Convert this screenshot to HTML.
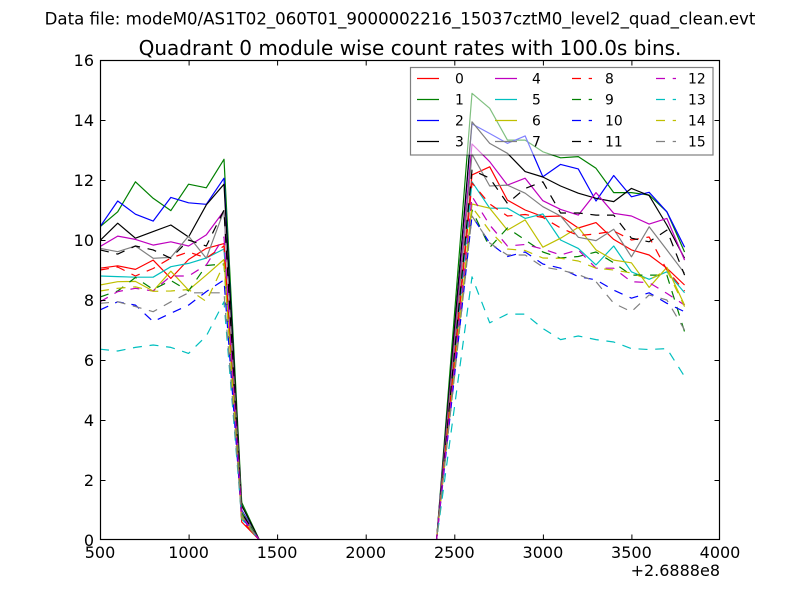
<!DOCTYPE html>
<html><head><meta charset="utf-8"><style>
html,body{margin:0;padding:0;background:#fff;}
svg{display:block;}
text{font-family:"DejaVu Sans","Liberation Sans",sans-serif;fill:#000;}
</style></head><body>
<svg width="800" height="600" viewBox="0 0 800 600" xmlns="http://www.w3.org/2000/svg">
<rect width="800" height="600" fill="#fff"/>
<text x="400" y="24.5" font-size="16.6" text-anchor="middle">Data file: modeM0/AS1T02_060T01_9000002216_15037cztM0_level2_quad_clean.evt</text>
<text x="410" y="55" font-size="20" text-anchor="middle">Quadrant 0 module wise count rates with 100.0s bins.</text>
<defs><clipPath id="ax"><rect x="100" y="60" width="620" height="480"/></clipPath></defs>
<g clip-path="url(#ax)" fill="none" stroke-width="1.2" stroke-linejoin="round">
<polyline stroke="#ff0000" points="100,268.2 117.71,265.8 135.43,269.4 153.14,260.1 170.86,278.4 188.57,259.5 206.29,248.4 224,243.6 241.71,522 259.43,540 436.57,540 472,174.9 489.71,166.8 507.43,200.1 525.14,210 542.86,216.6 560.57,216 578.29,228 596,222.6 613.71,239.4 631.43,249.9 649.14,255 666.86,268.2 684.57,285"/>
<polyline stroke="#008000" points="100,226.8 117.71,211.8 135.43,181.8 153.14,198.3 170.86,210.6 188.57,184.2 206.29,187.8 224,159.3 241.71,502.5 259.43,540 436.57,540 472,93.3 489.71,108.3 507.43,140.1 525.14,140.1 542.86,151.8 560.57,157.8 578.29,156.6 596,168.3 613.71,192.6 631.43,192.6 649.14,195 666.86,211.8 684.57,252"/>
<polyline stroke="#0000ff" points="100,226.8 117.71,201 135.43,214.2 153.14,221.1 170.86,197.4 188.57,202.8 206.29,204.3 224,178.2 241.71,510 259.43,540 436.57,540 472,123.9 489.71,133.5 507.43,143.4 525.14,135.9 542.86,176.7 560.57,164.4 578.29,168.9 596,201 613.71,175.5 631.43,196.8 649.14,192.3 666.86,211.8 684.57,247.2"/>
<polyline stroke="#000000" points="100,240.6 117.71,223.2 135.43,238.2 153.14,231.6 170.86,225 188.57,237 206.29,204.9 224,184.2 241.71,505.5 259.43,540 436.57,540 472,121.8 489.71,143.4 507.43,153.3 525.14,171.6 542.86,177 560.57,186 578.29,193.2 596,198.3 613.71,201.6 631.43,188.4 649.14,195.6 666.86,225 684.57,258.3"/>
<polyline stroke="#bf00bf" points="100,246.6 117.71,236.1 135.43,239.4 153.14,245.1 170.86,241.8 188.57,246 206.29,234.9 224,210.9 241.71,513 259.43,540 436.57,540 472,144 489.71,161.7 507.43,185.1 525.14,178.2 542.86,200.7 560.57,209.4 578.29,215.1 596,192.6 613.71,213.3 631.43,216 649.14,224.1 666.86,218.4 684.57,260.1"/>
<polyline stroke="#00bfbf" points="100,276 117.71,276.6 135.43,277.2 153.14,277.2 170.86,266.7 188.57,263.4 206.29,258 224,249 241.71,516 259.43,540 436.57,540 472,181.8 489.71,208.2 507.43,208.2 525.14,218.4 542.86,213.9 560.57,240 578.29,248.4 596,264.9 613.71,246 631.43,271.8 649.14,279.3 666.86,271.8 684.57,292.8"/>
<polyline stroke="#bfbf00" points="100,285 117.71,281.7 135.43,281.4 153.14,291 170.86,271.2 188.57,290.1 206.29,275.1 224,259.5 241.71,514.5 259.43,540 436.57,540 472,204 489.71,208.2 507.43,230.1 525.14,219.9 542.86,247.2 560.57,238.2 578.29,227.4 596,249.9 613.71,260.1 631.43,262.8 649.14,287.4 666.86,267.3 684.57,305.1"/>
<polyline stroke="#808080" points="100,248.4 117.71,251.7 135.43,246 153.14,258.3 170.86,257.4 188.57,236.1 206.29,258.3 224,210.6 241.71,511.5 259.43,540 436.57,540 472,154.2 489.71,186 507.43,185.1 525.14,193.2 542.86,206.7 560.57,216 578.29,237.3 596,240.6 613.71,229.2 631.43,256.8 649.14,226.8 666.86,249.9 684.57,273.3"/>
<g stroke-dasharray="9,7.7">
<polyline stroke="#ff0000" points="100,270 117.71,267 135.43,276 153.14,268.5 170.86,258 188.57,252 206.29,258 224,246 241.71,520.5 259.43,540 436.57,540 472,183 489.71,204 507.43,216 525.14,214.5 542.86,217.5 560.57,228 578.29,235.5 596,234 613.71,231 631.43,240 649.14,237 666.86,270 684.57,291"/>
<polyline stroke="#008000" points="100,297 117.71,291 135.43,277.5 153.14,289.5 170.86,280.5 188.57,291 206.29,265.5 224,264 241.71,513 259.43,540 436.57,540 472,210 489.71,247.5 507.43,228 525.14,240 542.86,252 560.57,258 578.29,256.5 596,252 613.71,262.8 631.43,275.1 649.14,275.1 666.86,275.1 684.57,331.8"/>
<polyline stroke="#0000ff" points="100,309.9 117.71,301.8 135.43,305.1 153.14,321.6 170.86,313.2 188.57,305.1 206.29,291.6 224,279.9 241.71,517.5 259.43,540 436.57,540 472,216 489.71,243 507.43,256.5 525.14,252 542.86,264 560.57,268.2 578.29,276.6 596,279.9 613.71,290.1 631.43,298.2 649.14,292.8 666.86,303.3 684.57,311.7"/>
<polyline stroke="#000000" points="100,249.9 117.71,254.1 135.43,246 153.14,249.9 170.86,258.3 188.57,240 206.29,246 224,210 241.71,513 259.43,540 436.57,540 472,170.1 489.71,178.2 507.43,203.4 525.14,188.4 542.86,181.8 560.57,213 578.29,213 596,215.1 613.71,215.1 631.43,238.2 649.14,241.8 666.86,230.1 684.57,275.1"/>
<polyline stroke="#bf00bf" points="100,301.8 117.71,291.6 135.43,288.3 153.14,291 170.86,276 188.57,276 206.29,264.9 224,237 241.71,516 259.43,540 436.57,540 472,196.5 489.71,225 507.43,246 525.14,244.5 542.86,249 560.57,255 578.29,249.9 596,268.2 613.71,268.2 631.43,281.7 649.14,282.6 666.86,293.4 684.57,305.1"/>
<polyline stroke="#00bfbf" points="100,349.2 117.71,351 135.43,347.4 153.14,345 170.86,347.4 188.57,353.4 206.29,336 224,301.8 241.71,519 259.43,540 436.57,540 472,276.9 489.71,322.8 507.43,314.1 525.14,314.1 542.86,328.5 560.57,339.6 578.29,336 596,339.6 613.71,342 631.43,348.6 649.14,349.5 666.86,348.6 684.57,376.5"/>
<polyline stroke="#bfbf00" points="100,291 117.71,288.3 135.43,286.8 153.14,291.3 170.86,291 188.57,289.5 206.29,301.5 224,264 241.71,517.5 259.43,540 436.57,540 472,207 489.71,231 507.43,249 525.14,250.5 542.86,258 560.57,258.3 578.29,261 596,268.2 613.71,270 631.43,273 649.14,279.9 666.86,270 684.57,306.6"/>
<polyline stroke="#808080" points="100,303.3 117.71,301.8 135.43,306.6 153.14,311.7 170.86,301.8 188.57,292.8 206.29,292.8 224,292.8 241.71,516 259.43,540 436.57,540 472,216 489.71,243 507.43,255 525.14,255 542.86,267 560.57,270 578.29,274.5 596,281.7 613.71,303.3 631.43,311.7 649.14,294.9 666.86,300 684.57,330"/>
</g>
</g>
<!-- ticks -->
<g stroke="#000" stroke-width="1">
<path d="M100.5,540V534.5M189.1,540V534.5M277.6,540V534.5M366.2,540V534.5M454.8,540V534.5M543.4,540V534.5M631.9,540V534.5M719.5,540V534.5"/>
<path d="M100.5,60V65.5M189.1,60V65.5M277.6,60V65.5M366.2,60V65.5M454.8,60V65.5M543.4,60V65.5M631.9,60V65.5M719.5,60V65.5"/>
<path d="M100,480.5H105.5M100,420.5H105.5M100,360.5H105.5M100,300.5H105.5M100,240.5H105.5M100,180.5H105.5M100,120.5H105.5"/>
<path d="M720,480.5H714.5M720,420.5H714.5M720,360.5H714.5M720,300.5H714.5M720,240.5H714.5M720,180.5H714.5M720,120.5H714.5"/>
</g>
<rect x="100.5" y="60.5" width="619" height="479" fill="none" stroke="#000" stroke-width="1.2"/>
<!-- legend -->
<rect x="410.5" y="67.5" width="302.5" height="87.5" fill="#fff" fill-opacity="0.5" stroke="#000" stroke-opacity="0.5" stroke-width="1.2"/>
<g stroke-width="1.2" fill="none">
<line x1="417" y1="78.5" x2="439" y2="78.5" stroke="#ff0000"/>
<line x1="417" y1="99.5" x2="439" y2="99.5" stroke="#008000"/>
<line x1="417" y1="120.5" x2="439" y2="120.5" stroke="#0000ff"/>
<line x1="417" y1="141.5" x2="439" y2="141.5" stroke="#000000"/>
<line x1="495" y1="78.5" x2="517" y2="78.5" stroke="#bf00bf"/>
<line x1="495" y1="99.5" x2="517" y2="99.5" stroke="#00bfbf"/>
<line x1="495" y1="120.5" x2="517" y2="120.5" stroke="#bfbf00"/>
<line x1="495" y1="141.5" x2="517" y2="141.5" stroke="#808080"/>
<g stroke-dasharray="9,7.7">
<line x1="572" y1="78.5" x2="592" y2="78.5" stroke="#ff0000"/>
<line x1="572" y1="99.5" x2="592" y2="99.5" stroke="#008000"/>
<line x1="572" y1="120.5" x2="592" y2="120.5" stroke="#0000ff"/>
<line x1="572" y1="141.5" x2="592" y2="141.5" stroke="#000000"/>
<line x1="656" y1="78.5" x2="676" y2="78.5" stroke="#bf00bf"/>
<line x1="656" y1="99.5" x2="676" y2="99.5" stroke="#00bfbf"/>
<line x1="656" y1="120.5" x2="676" y2="120.5" stroke="#bfbf00"/>
<line x1="656" y1="141.5" x2="676" y2="141.5" stroke="#808080"/>
</g>
</g>
<g font-size="13.9">
<text x="455" y="83.5">0</text><text x="455" y="104.5">1</text><text x="455" y="125.5">2</text><text x="455" y="146.5">3</text>
<text x="532" y="83.5">4</text><text x="532" y="104.5">5</text><text x="532" y="125.5">6</text><text x="532" y="146.5">7</text>
<text x="605" y="83.5">8</text><text x="605" y="104.5">9</text><text x="605" y="125.5">10</text><text x="605" y="146.5">11</text>
<text x="688" y="83.5">12</text><text x="688" y="104.5">13</text><text x="688" y="125.5">14</text><text x="688" y="146.5">15</text>
</g>
<!-- tick labels -->
<g font-size="16" text-anchor="end">
<text x="94" y="545.8">0</text><text x="94" y="485.8">2</text><text x="94" y="425.8">4</text><text x="94" y="365.8">6</text>
<text x="94" y="305.8">8</text><text x="94" y="245.8">10</text><text x="94" y="185.8">12</text><text x="94" y="125.8">14</text><text x="94" y="65.8">16</text>
</g>
<g font-size="16" text-anchor="middle">
<text x="100" y="558">500</text><text x="188.6" y="558">1000</text><text x="277.1" y="558">1500</text><text x="365.7" y="558">2000</text>
<text x="454.3" y="558">2500</text><text x="542.9" y="558">3000</text><text x="631.4" y="558">3500</text><text x="720" y="558">4000</text>
</g>
<text x="720" y="576" font-size="16" text-anchor="end">+2.6888e8</text>
</svg>
</body></html>
